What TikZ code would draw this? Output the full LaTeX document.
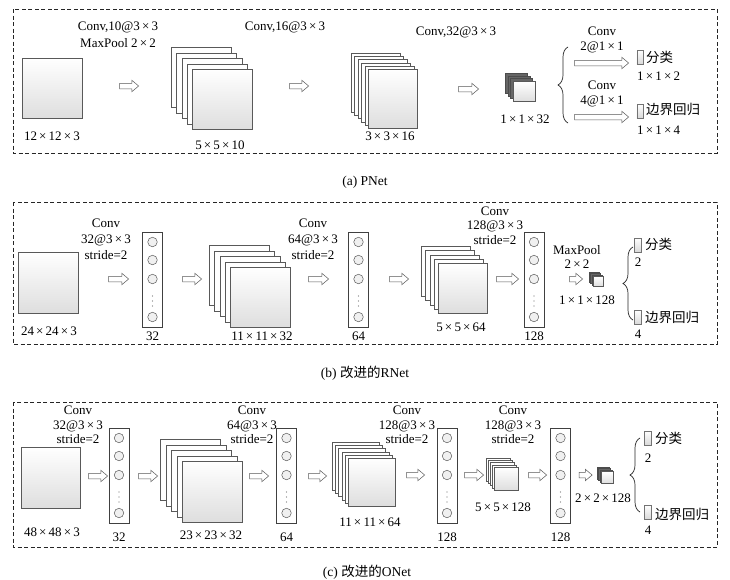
\documentclass[tikz,border=0pt]{standalone}
\usepackage{fontspec}
\setmainfont{Liberation Serif}
\newfontfamily\cjk{Noto Sans CJK SC}
\usetikzlibrary{shapes.arrows,decorations.pathreplacing}

\newcommand{\tms}{\,×\,}

\tikzset{
  frame/.style={draw=black!85, dash pattern=on 4pt off 2.5pt, line width=0.9pt},
  fmap/.style={draw=black!65, fill=white, line width=0.5pt, anchor=north west, inner sep=0pt},
  fmapfront/.style={fmap, top color=white, bottom color=black!13},
  cubeback/.style={fmap, fill=black!60, draw=black!70},
  harrow/.style={single arrow, draw=black!65, fill=white, inner xsep=0pt, inner ysep=2.5pt,
    single arrow head extend=3pt, single arrow tip angle=80, line width=0.5pt},
  ncolbox/.style={draw=black!75, fill=white, minimum width=20pt, minimum height=95pt, inner sep=0pt, line width=0.6pt},
  neuron/.style={circle, draw=black!65, fill=black!6, minimum size=9.5pt, inner sep=0pt, line width=0.5pt},
  lbl/.style={font=\fontsize{13}{16}\selectfont, inner sep=0pt, text=black},
  cjklbl/.style={font=\cjk\fontsize{13.5}{15}\selectfont, inner sep=0pt, text=black},
  caplbl/.style={font=\fontsize{13.5}{16}\selectfont, inner sep=0pt, text=black},
  outbox/.style={draw=black!55, top color=white, bottom color=black!15, minimum width=6.5pt, minimum height=14pt, inner sep=0pt, line width=0.5pt},
  bracestyle/.style={draw=black!85, line width=0.7pt, decorate, decoration={brace, amplitude=10pt, aspect=0.5}}
}

% name, x, y, back layers, dx, dy, w, h
\newcommand{\fstack}[8]{%
  \foreach \i in {1,...,#4} {
    \node[fmap, minimum width=#7pt, minimum height=#8pt] (#1-\i) at ({#2+(\i-1)*#5},{#3+(\i-1)*#6}) {};
  }
  \node[fmapfront, minimum width=#7pt, minimum height=#8pt] (#1) at ({#2+#4*#5},{#3+#4*#6}) {};
}
\newcommand{\fcube}[8]{%
  \foreach \i in {1,...,#4} {
    \node[cubeback, minimum width=#7pt, minimum height=#8pt] (#1-\i) at ({#2+(\i-1)*#5},{#3+(\i-1)*#6}) {};
  }
  \node[fmapfront, minimum width=#7pt, minimum height=#8pt] (#1) at ({#2+#4*#5},{#3+#4*#6}) {};
}
% name, xcenter, ytop
\newcommand{\ncol}[3]{%
  \node[ncolbox, anchor=north] (#1) at (#2,#3) {};
  \foreach \dy in {10,28,47,85} { \node[neuron] (#1-n\dy) at (#2,{#3+\dy}) {}; }
  \foreach \dy in {64,69,74} { \fill[black!55] (#2,{#3+\dy}) circle (0.6pt); }
}

\begin{document}
\begin{tikzpicture}[x=1pt,y=-1pt]
\fill[white] (0,0) rectangle (730,579);
\path[use as bounding box] (0,0) rectangle (730,579);

% ================= (a) PNet =================
\draw[frame] (13,9) rectangle (717,153);
\node[fmapfront, minimum width=60pt, minimum height=60pt] (inA) at (22,58) {};
\node[lbl] (tA0) at (52,136) {12\tms12\tms3};
\node[lbl, align=center, font=\fontsize{13}{17}\selectfont] (tA1) at (118,34.5) {Conv,10@3\tms3\\MaxPool 2\tms2};
\node[harrow, minimum height=19pt] (aA1) at (127.5,86) {};
\fstack{sA1}{171}{47}{4}{5.25}{5.5}{60}{60}
\node[lbl] (tA2) at (220,145) {5\tms5\tms10};
\node[lbl] (tA3) at (285,27) {Conv,16@3\tms3};
\node[harrow, minimum height=19pt] (aA2) at (297.5,86) {};
\fstack{sA2}{351}{53}{5}{3.4}{3.2}{49}{59}
\node[lbl] (tA4) at (390,136) {3\tms3\tms16};
\node[lbl] (tA5) at (456,32) {Conv,32@3\tms3};
\node[harrow, minimum height=20pt] (aA3) at (467,89) {};
\fcube{cA}{505}{73}{3}{2.7}{2.7}{22}{20}
\node[lbl] (tA6) at (525,119) {1\tms1\tms32};
\coordinate (bA1) at (568,123);
\coordinate (bA2) at (568,47);
\draw[bracestyle] (bA1) -- (bA2);
\node[harrow, minimum height=54pt] (aA4) at (600,63) {};
\node[harrow, minimum height=54pt] (aA5) at (600,117) {};
\node[lbl, align=center, font=\fontsize{13}{15}\selectfont] (tA7) at (602,39.5) {Conv\\2@1\tms1};
\node[lbl, align=center, font=\fontsize{13}{15}\selectfont] (tA8) at (602,93.5) {Conv\\4@1\tms1};
\node[outbox] (oA1) at (640,57) {};
\node[cjklbl, anchor=west] (tA9) at (646,57) {分类};
\node[lbl, anchor=west] (tA10) at (637,76) {1\tms1\tms2};
\node[outbox] (oA2) at (640,111) {};
\node[cjklbl, anchor=west] (tA11) at (646,109) {边界回归};
\node[lbl, anchor=west] (tA12) at (637,130) {1\tms1\tms4};
\node[caplbl] (capA) at (365,182) {(a) PNet};

% ================= (b) RNet =================
\draw[frame] (13,202) rectangle (717,344);
\node[fmapfront, minimum width=60pt, minimum height=61pt] (inB) at (18,252) {};
\node[lbl] (tB0) at (49,331) {24\tms24\tms3};
\node[lbl, align=center] (tB1) at (106,239) {Conv\\32@3\tms3\\stride=2};
\node[harrow, minimum height=20pt] (aB1) at (117,279) {};
\ncol{colB1}{152.5}{232}
\node[lbl] (tB2) at (152.5,336) {32};
\node[harrow, minimum height=19pt] (aB2) at (190.5,279) {};
\fstack{sB1}{209}{245}{4}{5.25}{5.5}{60}{60}
\node[lbl] (tB3) at (262,336) {11\tms11\tms32};
\node[lbl, align=center] (tB4) at (313,239) {Conv\\64@3\tms3\\stride=2};
\node[harrow, minimum height=20pt] (aB3) at (317,279) {};
\ncol{colB2}{358.5}{232}
\node[lbl] (tB5) at (358.5,336) {64};
\node[harrow, minimum height=19pt] (aB4) at (397.5,279) {};
\fstack{sB2}{421}{246}{4}{4.25}{4.25}{49}{50}
\node[lbl] (tB6) at (461,327) {5\tms5\tms64};
\node[lbl, align=center, font=\fontsize{13}{14.5}\selectfont] (tB7) at (495,225.5) {Conv\\128@3\tms3\\stride=2};
\node[harrow, minimum height=22pt] (aB5) at (506,279) {};
\ncol{colB3}{534}{232}
\node[lbl] (tB8) at (534,336) {128};
\node[lbl, align=center, font=\fontsize{13}{14}\selectfont] (tB9) at (577,257) {MaxPool\\2\tms2};
\node[harrow, minimum height=13pt] (aB6) at (574.5,279) {};
\fcube{cB}{589}{272}{3}{1.4}{1.4}{10}{10}
\node[lbl] (tB10) at (587,300) {1\tms1\tms128};
\coordinate (bB1) at (633,320);
\coordinate (bB2) at (633,247);
\draw[bracestyle] (bB1) -- (bB2);
\node[outbox] (oB1) at (637.5,245) {};
\node[cjklbl, anchor=west] (tB11) at (645,244) {分类};
\node[lbl] (tB12) at (638,262) {2};
\node[outbox] (oB2) at (637.5,317) {};
\node[cjklbl, anchor=west] (tB13) at (645,317) {边界回归};
\node[lbl] (tB14) at (638,334) {4};
\node[caplbl] (capB) at (365,373) {(b) {\cjk 改进的}RNet};

% ================= (c) ONet =================
\draw[frame] (13,402) rectangle (717,547);
\node[fmapfront, minimum width=59pt, minimum height=61pt] (inC) at (21,447) {};
\node[lbl] (tC0) at (52,532) {48\tms48\tms3};
\node[lbl, align=center, font=\fontsize{13}{14.5}\selectfont] (tC1) at (78,425) {Conv\\32@3\tms3\\stride=2};
\node[harrow, minimum height=19pt] (aC1) at (96.5,476) {};
\ncol{colC1}{119}{428}
\node[lbl] (tC2) at (119,537) {32};
\node[harrow, minimum height=19pt] (aC2) at (146.5,476) {};
\fstack{sC1}{160}{439}{4}{5.5}{5.5}{60}{61}
\node[lbl] (tC3) at (211,535) {23\tms23\tms32};
\node[lbl, align=center, font=\fontsize{13}{14.5}\selectfont] (tC4) at (252,425) {Conv\\64@3\tms3\\stride=2};
\node[harrow, minimum height=19pt] (aC3) at (257.5,476) {};
\ncol{colC2}{286.5}{428}
\node[lbl] (tC5) at (286.5,537) {64};
\node[harrow, minimum height=18pt] (aC4) at (316,476) {};
\fstack{sC2}{332}{442}{5}{3.2}{3.2}{47}{48}
\node[lbl] (tC6) at (370,522) {11\tms11\tms64};
\node[lbl, align=center, font=\fontsize{13}{14.5}\selectfont] (tC7) at (407,425) {Conv\\128@3\tms3\\stride=2};
\node[harrow, minimum height=18pt] (aC5) at (414,475) {};
\ncol{colC3}{447}{428}
\node[lbl] (tC8) at (447,537) {128};
\node[harrow, minimum height=19pt] (aC6) at (472.5,475) {};
\node[lbl, align=center, font=\fontsize{13}{14.5}\selectfont] (tC9) at (513,425) {Conv\\128@3\tms3\\stride=2};
\fstack{sC3}{486}{458}{4}{2}{2.2}{24}{23}
\node[lbl] (tC10) at (503,507) {5\tms5\tms128};
\node[harrow, minimum height=18pt] (aC7) at (536,475) {};
\ncol{colC4}{560.5}{428}
\node[lbl] (tC11) at (560.5,537) {128};
\node[harrow, minimum height=13pt] (aC8) at (584,475) {};
\fcube{cC}{597}{467}{3}{1.4}{1.4}{12}{12}
\node[lbl] (tC12) at (603,498) {2\tms2\tms128};
\coordinate (bC1) at (640,512);
\coordinate (bC2) at (640,438);
\draw[bracestyle] (bC1) -- (bC2);
\node[outbox] (oC1) at (647.5,438) {};
\node[cjklbl, anchor=west] (tC13) at (655,438) {分类};
\node[lbl] (tC14) at (648,458) {2};
\node[outbox] (oC2) at (647.5,512) {};
\node[cjklbl, anchor=west] (tC15) at (655,514) {边界回归};
\node[lbl] (tC16) at (648,530) {4};
\node[caplbl] (capC) at (367,572) {(c) {\cjk 改进的}ONet};
\end{tikzpicture}
\end{document}
